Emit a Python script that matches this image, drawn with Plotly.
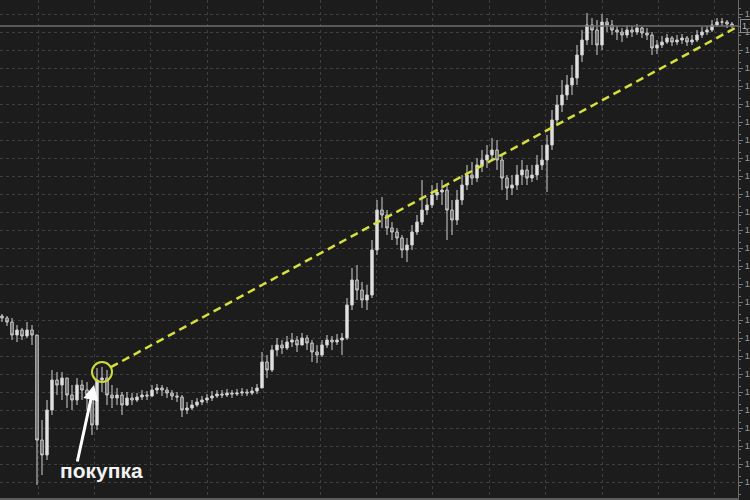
import plotly.graph_objects as go

# ---- data (prices) ----
closes = [1.1840, 1.1836, 1.1823, 1.1828, 1.1822, 1.1828, 1.1823, 1.1718, 1.1703, 1.1748,
          1.1778, 1.1773, 1.1780, 1.1763, 1.1758, 1.1773, 1.1768, 1.1763, 1.1733, 1.1778,
          1.1780, 1.1763, 1.1760, 1.1763, 1.1753, 1.1760, 1.1758, 1.1761, 1.1763, 1.1762,
          1.1768, 1.1770, 1.1768, 1.1765, 1.1762, 1.1761, 1.1748, 1.1750, 1.1753, 1.1756,
          1.1758, 1.1760, 1.1762, 1.1764, 1.1763, 1.1765, 1.1764, 1.1765, 1.1766, 1.1765,
          1.1767, 1.1770, 1.1796, 1.1788, 1.1808, 1.1813, 1.1810, 1.1816, 1.1818, 1.1813,
          1.1820, 1.1815, 1.1806, 1.1803, 1.1813, 1.1818, 1.1816, 1.1818, 1.1820, 1.1853,
          1.1878, 1.1868, 1.1858, 1.1863, 1.1908, 1.1948, 1.1943, 1.1930, 1.1926, 1.1920,
          1.1908, 1.1913, 1.1926, 1.1936, 1.1948, 1.1953, 1.1963, 1.1966, 1.1968, 1.1948,
          1.1938, 1.1958, 1.1973, 1.1983, 1.1980, 1.1993, 1.1998, 1.2003, 1.2008, 1.1998,
          1.1980, 1.1970, 1.1973, 1.1983, 1.1988, 1.1980, 1.1983, 1.1993, 1.1998, 1.2013,
          1.2038, 1.2053, 1.2063, 1.2073, 1.2080, 1.2103, 1.2118, 1.2133, 1.2128, 1.2113,
          1.2136, 1.2133, 1.2128, 1.2126, 1.2123, 1.2128, 1.2126, 1.2130, 1.2125, 1.2123,
          1.2110, 1.2113, 1.2116, 1.2120, 1.2116, 1.2118, 1.2120, 1.2116, 1.2118, 1.2123,
          1.2126, 1.2128, 1.2133, 1.2136, 1.2136, 1.2134, 1.2132]

highs = [1.1844, 1.1842, 1.1840, 1.1833, 1.1830, 1.1836, 1.1833, 1.1823, 1.1738, 1.1758,
         1.1788, 1.1786, 1.1786, 1.1778, 1.1773, 1.1780, 1.1778, 1.1776, 1.1768, 1.1790,
         1.1791, 1.1788, 1.1773, 1.1770, 1.1766, 1.1766, 1.1765, 1.1765, 1.1768, 1.1767,
         1.1773, 1.1774, 1.1773, 1.1771, 1.1768, 1.1766, 1.1763, 1.1756, 1.1758, 1.1760,
         1.1762, 1.1764, 1.1767, 1.1768, 1.1768, 1.1769, 1.1768, 1.1769, 1.1770, 1.1769,
         1.1771, 1.1774, 1.1806, 1.1803, 1.1813, 1.1820, 1.1818, 1.1822, 1.1825, 1.1822,
         1.1825, 1.1823, 1.1818, 1.1813, 1.1818, 1.1823, 1.1822, 1.1824, 1.1825, 1.1860,
         1.1890, 1.1893, 1.1876, 1.1873, 1.1918, 1.1958, 1.1961, 1.1948, 1.1936, 1.1930,
         1.1923, 1.1920, 1.1933, 1.1943, 1.1978, 1.1960, 1.1973, 1.1975, 1.1978, 1.1973,
         1.1958, 1.1968, 1.1983, 1.1993, 1.1996, 1.2000, 1.2008, 1.2013, 1.2020, 1.2018,
         1.2003, 1.1983, 1.1983, 1.1993, 1.1998, 1.1993, 1.1993, 1.2003, 1.2013, 1.2023,
         1.2048, 1.2063, 1.2078, 1.2083, 1.2093, 1.2113, 1.2128, 1.2145, 1.2140, 1.2138,
         1.2144, 1.2140, 1.2138, 1.2132, 1.2130, 1.2133, 1.2132, 1.2134, 1.2131, 1.2130,
         1.2126, 1.2118, 1.2122, 1.2124, 1.2122, 1.2123, 1.2124, 1.2122, 1.2123, 1.2128,
         1.2131, 1.2132, 1.2138, 1.2140, 1.2140, 1.2138, 1.2136]

lows = [1.1836, 1.1832, 1.1818, 1.1816, 1.1818, 1.1820, 1.1813, 1.1673, 1.1683, 1.1698,
        1.1743, 1.1763, 1.1758, 1.1750, 1.1748, 1.1753, 1.1758, 1.1748, 1.1723, 1.1728,
        1.1766, 1.1753, 1.1750, 1.1753, 1.1743, 1.1752, 1.1753, 1.1756, 1.1758, 1.1758,
        1.1761, 1.1764, 1.1762, 1.1760, 1.1758, 1.1756, 1.1741, 1.1744, 1.1748, 1.1751,
        1.1753, 1.1755, 1.1757, 1.1760, 1.1760, 1.1761, 1.1760, 1.1762, 1.1762, 1.1762,
        1.1763, 1.1764, 1.1773, 1.1780, 1.1786, 1.1802, 1.1804, 1.1808, 1.1811, 1.1806,
        1.1813, 1.1808, 1.1796, 1.1795, 1.1801, 1.1810, 1.1808, 1.1813, 1.1803, 1.1818,
        1.1848, 1.1858, 1.1850, 1.1848, 1.1860, 1.1903, 1.1930, 1.1923, 1.1918, 1.1913,
        1.1900, 1.1896, 1.1908, 1.1923, 1.1933, 1.1943, 1.1950, 1.1958, 1.1953, 1.1918,
        1.1923, 1.1933, 1.1953, 1.1968, 1.1973, 1.1976, 1.1986, 1.1990, 1.1998, 1.1988,
        1.1968, 1.1958, 1.1963, 1.1968, 1.1973, 1.1973, 1.1976, 1.1978, 1.1988, 1.1966,
        1.2008, 1.2033, 1.2046, 1.2058, 1.2063, 1.2073, 1.2096, 1.2113, 1.2113, 1.2103,
        1.2108, 1.2126, 1.2123, 1.2118, 1.2116, 1.2120, 1.2121, 1.2123, 1.2120, 1.2118,
        1.2103, 1.2104, 1.2110, 1.2114, 1.2112, 1.2113, 1.2114, 1.2112, 1.2113, 1.2116,
        1.2120, 1.2123, 1.2126, 1.2131, 1.2132, 1.2130, 1.2130]

first_open = 1.1842
opens = [first_open] + closes[:-1]
highs = [max(h, o, c) for h, o, c in zip(highs, opens, closes)]
lows = [min(l, o, c) for l, o, c in zip(lows, opens, closes)]
bars = list(range(len(closes)))

buy_bar = 20
buy_price = 1.1786
buy_label = "покупка"
last_price = closes[-1]

BG = "#1c1c1c"
GRID = "#3e3e3e"

fig = go.Figure()
fig.add_trace(go.Candlestick(
    x=bars, open=opens, high=highs, low=lows, close=closes,
    increasing=dict(line=dict(color="#d0d0d0", width=1), fillcolor="#e6e6e6"),
    decreasing=dict(line=dict(color="#d0d0d0", width=1), fillcolor="#5a5a5a"),
    whiskerwidth=0, showlegend=False, hoverinfo="skip",
))

# current price line
fig.add_shape(type="line", xref="paper", yref="y", x0=0, x1=1,
              y0=last_price, y1=last_price, line=dict(color="#6e6e6e", width=1.5))

# circle around the buy point
fig.add_shape(type="circle", xref="x", yref="y",
              x0=buy_bar - 2, x1=buy_bar + 2, y0=buy_price - 0.0010, y1=buy_price + 0.0010,
              line=dict(color="#cfdb3a", width=2))

# dashed trend line from the buy point to the last bar
fig.add_shape(type="line", xref="x", yref="y",
              x0=buy_bar + 1.76, y0=buy_price + 0.00048,
              x1=len(closes), y1=last_price - 0.0001,
              line=dict(color="#d6e03c", width=2.5, dash="8px,5px"))

# arrow and label
fig.add_annotation(x=buy_bar - 1.6, y=buy_price - 0.0013, xref="x", yref="y",
                   ax=-17, ay=78, showarrow=True, arrowhead=2, arrowsize=1,
                   arrowwidth=3, arrowcolor="#ffffff", text="")
fig.add_annotation(x=buy_bar - 0.2, y=1.1688, xref="x", yref="y", showarrow=False,
                   text="<b>" + buy_label + "</b>",
                   font=dict(family="Liberation Sans, Arial", size=21, color="#f2f2f2"))

# price box on the axis
fig.add_annotation(x=1, y=last_price, xref="paper", yref="y", xanchor="left",
                   showarrow=False, text=f"{last_price:.4f}",
                   font=dict(family="Liberation Sans", size=9, color="#bbbbbb"),
                   bordercolor="#8a8a8a", borderwidth=1, borderpad=1, xshift=2)

fig.update_layout(
    width=750, height=500,
    margin=dict(l=0, r=12, t=0, b=2),
    paper_bgcolor=BG, plot_bgcolor=BG,
    xaxis=dict(range=[-0.4, 147.2], showticklabels=False, rangeslider=dict(visible=False),
               showgrid=True, gridcolor=GRID, griddash="3px,3px", gridwidth=1,
               tick0=7.2, dtick=11.28, ticks="", zeroline=False,
               showline=True, linecolor="#5c5c5c", linewidth=2, mirror=False),
    yaxis=dict(range=[1.1660, 1.2158], side="right", tick0=1.2000, dtick=0.0018,
               tickformat=".4f", showgrid=True, gridcolor=GRID, griddash="3px,3px",
               gridwidth=1, zeroline=False, showline=True, linecolor="#6a6a6a",
               linewidth=1, ticks="outside", ticklen=4, tickcolor="#777777",
               tickfont=dict(family="Liberation Sans", size=9, color="#9a9a9a"),
               minor=dict(dtick=0.0009, ticks="outside", ticklen=2, tickcolor="#777777",
                          showgrid=False),
               automargin=False),
    hovermode=False,
)

fig.write_html("out.html", default_width="750px", default_height="500px",
               config={"displayModeBar": False, "staticPlot": True},
               post_script="document.body.style.margin='0';"
                           "document.body.style.background='#1c1c1c';"
                           "document.body.style.overflow='hidden';")
